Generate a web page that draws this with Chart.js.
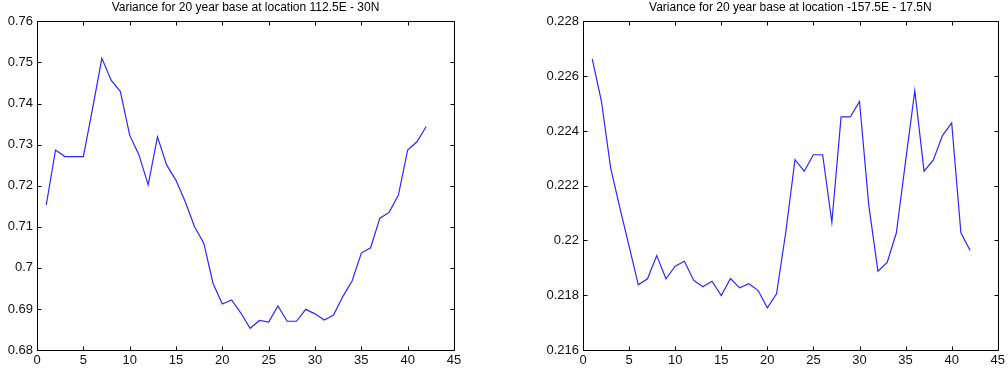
<!DOCTYPE html>
<html>
<head>
<meta charset="utf-8">
<script src="https://cdn.jsdelivr.net/npm/chart.js@4.4.1/dist/chart.umd.min.js"></script>
<style>
    body { margin: 0; background: #fff; }
    canvas { position: absolute; top: 0; }
    #leftChart { left: 0; }
    #rightChart { left: 504px; }
</style>
</head>
<body>
<canvas id="leftChart" width="504" height="370"></canvas>
<canvas id="rightChart" width="504" height="370"></canvas>
<script>
// Eje x: número de paso (1..42)
const pasos = [1, 2, 3, 4, 5, 6, 7, 8, 9, 10, 11, 12, 13, 14, 15, 16, 17, 18, 19, 20, 21,
    22, 23, 24, 25, 26, 27, 28, 29, 30, 31, 32, 33, 34, 35, 36, 37, 38, 39, 40, 41, 42];

// Varianza en 112.5E - 30N
const varianzaIzq = [0.7153, 0.7287, 0.7271, 0.7271, 0.7271, 0.7388, 0.7510, 0.7457, 0.7429, 0.7323,
    0.7275, 0.7202, 0.7319, 0.7250, 0.7213, 0.7161, 0.7100, 0.7060, 0.6962, 0.6912,
    0.6922, 0.6890, 0.6853, 0.6872, 0.6868, 0.6907, 0.6870, 0.6870, 0.6899, 0.6888,
    0.6873, 0.6885, 0.6930, 0.6968, 0.7036, 0.7049, 0.7121, 0.7135, 0.7177, 0.7287,
    0.7307, 0.7344];

// Varianza en -157.5E - 17.5N
const varianzaDer = [0.22663, 0.22508, 0.22265, 0.22119, 0.21979, 0.21838, 0.21860, 0.21945, 0.21860, 0.21906,
    0.21924, 0.21855, 0.21831, 0.21851, 0.21799, 0.21861, 0.21827, 0.21842, 0.21817, 0.21754,
    0.21805, 0.22030, 0.22295, 0.22253, 0.22313, 0.22313, 0.22066, 0.22451, 0.22451, 0.22508,
    0.22130, 0.21888, 0.21920, 0.22028, 0.22290, 0.22547, 0.22253, 0.22293, 0.22383, 0.22429,
    0.22028, 0.21963];

const titulos = ['Variance for 20 year base at location 112.5E - 30N',
    'Variance for 20 year base at location -157.5E - 17.5N'];

// Rangos de los ejes
const ejeX = { min: 0, max: 45, step: 5 };
const ejeYIzq = { min: 0.68, max: 0.76, step: 0.01 };
const ejeYDer = { min: 0.216, max: 0.228, step: 0.002 };

const fuente = 'Liberation Sans, Arial, sans-serif';

// Marco negro con marcas hacia adentro (estilo Matlab)
const marcoPlugin = {
    id: 'marco',
    afterDraw(chart) {
        const ctx = chart.ctx;
        const a = chart.chartArea;
        const L = Math.round(a.left) + 0.5, R = Math.round(a.right) + 0.5;
        const T = Math.round(a.top) + 0.5, B = Math.round(a.bottom) + 0.5;
        ctx.save();
        ctx.strokeStyle = '#000';
        ctx.lineWidth = 1;
        ctx.beginPath();
        ctx.rect(L, T, R - L, B - T);
        const xs = chart.scales.x, ys = chart.scales.y;
        xs.ticks.forEach(t => {
            const px = Math.round(xs.getPixelForValue(t.value)) + 0.5;
            ctx.moveTo(px, B); ctx.lineTo(px, B - 4);
            ctx.moveTo(px, T); ctx.lineTo(px, T + 4);
        });
        ys.ticks.forEach(t => {
            const py = Math.round(ys.getPixelForValue(t.value)) + 0.5;
            ctx.moveTo(L, py); ctx.lineTo(L + 4, py);
            ctx.moveTo(R, py); ctx.lineTo(R - 4, py);
        });
        ctx.stroke();
        ctx.restore();
    }
};

function formatoMatlab(v) {
    return parseFloat(v.toFixed(4)).toString();
}

function crearGrafico(id, valores, titulo, ejeY, anchoY, padDer) {
    const ctx = document.getElementById(id).getContext('2d');
    return new Chart(ctx, {
        type: 'line',
        data: {
            datasets: [{
                data: pasos.map((p, i) => ({ x: p, y: valores[i] })),
                borderColor: 'rgb(40, 40, 255)',
                borderWidth: 1.2,
                pointRadius: 0,
                tension: 0,
                fill: false
            }]
        },
        options: {
            responsive: false,
            animation: false,
            devicePixelRatio: 1,
            layout: { padding: { top: 0, left: 0, right: padDer, bottom: 0 } },
            plugins: {
                legend: { display: false },
                tooltip: { enabled: false },
                title: {
                    display: true,
                    text: titulo,
                    fullSize: false,
                    color: '#000',
                    font: { family: fuente, size: 12, weight: 'normal' },
                    padding: { top: 0, bottom: 7 }
                }
            },
            scales: {
                x: {
                    type: 'linear',
                    min: ejeX.min, max: ejeX.max,
                    grid: { display: false, drawTicks: false },
                    border: { display: false },
                    ticks: {
                        stepSize: ejeX.step,
                        color: '#111',
                        padding: 3,
                        maxRotation: 0,
                        font: { family: fuente, size: 13 }
                    },
                    afterFit(scale) { scale.height = 20; }
                },
                y: {
                    min: ejeY.min, max: ejeY.max,
                    grid: { display: false, drawTicks: false },
                    border: { display: false },
                    ticks: {
                        stepSize: ejeY.step,
                        color: '#111',
                        padding: 4,
                        font: { family: fuente, size: 13 },
                        callback: v => formatoMatlab(v)
                    },
                    afterFit(scale) { scale.width = anchoY; }
                }
            }
        },
        plugins: [marcoPlugin]
    });
}

crearGrafico('leftChart', varianzaIzq, titulos[0], ejeYIzq, 37, 50);
crearGrafico('rightChart', varianzaDer, titulos[1], ejeYDer, 79, 7);
</script>
</body>
</html>
